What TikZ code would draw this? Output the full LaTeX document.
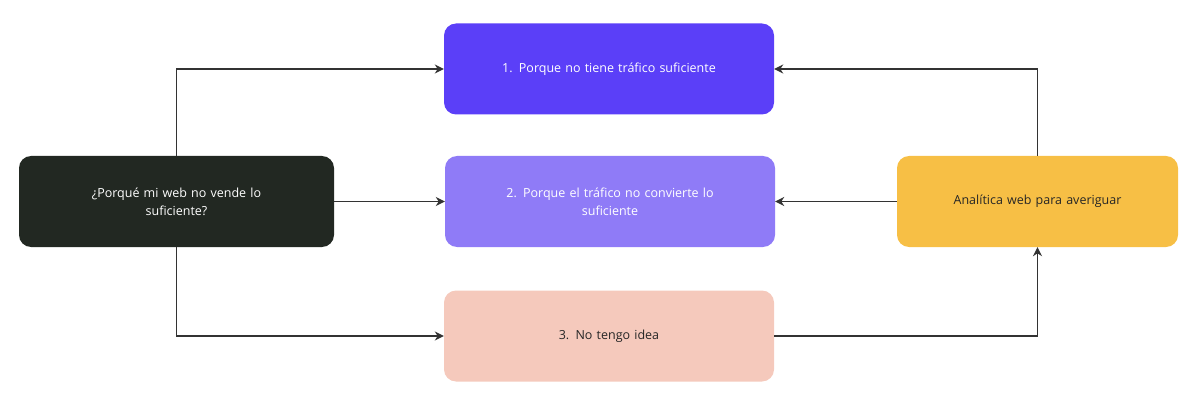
\documentclass[tikz,border=0pt]{standalone}
\usepackage{fontspec}
\setmainfont{Open Sans}
\usetikzlibrary{arrows.meta}
\definecolor{cdark}{HTML}{222822}
\definecolor{cone}{HTML}{5B3FF8}
\definecolor{ctwo}{HTML}{8F7BF7}
\definecolor{cthree}{HTML}{F5C9BC}
\definecolor{cfour}{HTML}{F7BF45}
\begin{document}
\begin{tikzpicture}[x=1pt,y=-1pt,
  box/.style={rounded corners=12pt,minimum height=91pt,align=center,font=\fontsize{12.5}{18}\selectfont,inner sep=0pt},
  conn/.style={draw=black!80,line width=1.3pt,-{Stealth[length=9pt,width=9pt]}}]
\useasboundingbox (0,0) rectangle (1200,409);
\node[box,fill=cdark,text=white,minimum width=315pt,text width=250pt] (q) at (176.5,201.5) {¿Porqué mi web no vende lo\\suficiente?};
\node[box,fill=cone,text=white,minimum width=330pt,text width=310pt] (a) at (609,69) {1. Porque no tiene tráfico suficiente};
\node[box,fill=ctwo,text=white,minimum width=330pt,text width=290pt] (b) at (610,201.5) {2. Porque el tráfico no convierte lo\\suficiente};
\node[box,fill=cthree,text=black!85,minimum width=330pt,text width=310pt] (c) at (609,336) {3. No tengo idea};
\node[box,fill=cfour,text=black!85,minimum width=281pt,text width=270pt] (r) at (1037.5,201.5) {Analítica web para averiguar};
\draw[conn] (q.north) -- (q.north |- a.west) -- (a.west);
\draw[conn] (q.east) -- (b.west);
\draw[conn] (q.south) -- (q.south |- c.west) -- (c.west);
\draw[conn] (c.east) -- (r.south |- c.east) -- (r.south);
\draw[conn] (r.north) -- (r.north |- a.east) -- (a.east);
\draw[conn] (r.west) -- (b.east);
\end{tikzpicture}
\end{document}
